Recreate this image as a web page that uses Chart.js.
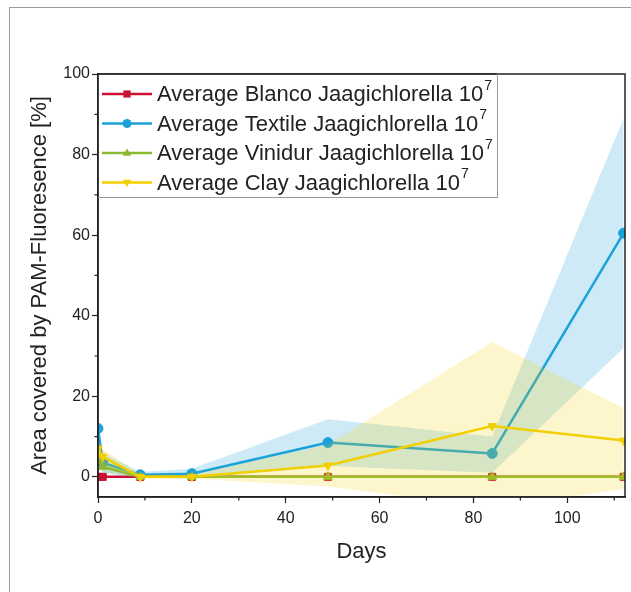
<!DOCTYPE html>
<html>
<head>
<meta charset="utf-8">
<script src="https://cdn.jsdelivr.net/npm/chart.js@4.4.0/dist/chart.umd.min.js"></script>
<style>
html, body { margin: 0; padding: 0; background: #fff; }
#wrap { position: relative; width: 631px; height: 592px; overflow: hidden; }
#frame { position: absolute; left: 9px; top: 7px; right: -2px; bottom: -2px; border-top: 1px solid #9a9a9a; border-left: 1px solid #9a9a9a; }
canvas { position: absolute; left: 0; top: 0; }
</style>
</head>
<body>
<div id="wrap">
  <div id="frame"></div>
  <canvas id="chart" width="631" height="592"></canvas>
</div>
<script>
// Data
const days = [0, 1, 9, 20, 49, 84, 112];

const blancoAvg = [0, 0, 0, 0, 0, 0, 0];

const textileAvg = [12, 3.5, 0.5, 0.8, 8.5, 5.8, 60.5];
const textileHigh = [13, 6, 1.2, 2, 14.3, 10, 89];
const textileLow = [11, 1, -0.2, -0.4, 2.7, 1, 32];

const vinidurAvg = [4, 2.5, 0, 0, 0, 0, 0];
const vinidurHigh = [5.5, 4, 0.3, 0.3, 0.3, 0.3, 0.3];
const vinidurLow = [2.5, 1, -0.3, -0.3, -0.3, -0.3, -0.3];

const clayAvg = [7, 5, 0, 0, 2.8, 12.6, 9];
const clayHigh = [9, 7, 0.5, 0.5, 8, 33.5, 17];
const clayLow = [5, 3, -0.5, -0.5, -2.4, -7.7, -3];

const seriesNames = [
    'Average Blanco Jaagichlorella 10',
    'Average Textile Jaagichlorella 10',
    'Average Vinidur Jaagichlorella 10',
    'Average Clay Jaagichlorella 10'
];

const colors = {
    blanco: '#cc1030',
    textile: '#1ba2d8',
    vinidur: '#8cb833',
    clay: '#f2cf00'
};

const FONT = '"Liberation Sans", Arial, sans-serif';

function pts(ys) {
    return days.map((d, i) => ({ x: d, y: ys[i] }));
}

function band(ys, color, order, fill) {
    return {
        data: pts(ys),
        borderWidth: 0,
        pointRadius: 0,
        backgroundColor: color,
        fill: fill,
        order: order,
        tension: 0
    };
}

function line(ys, color, style, rotation, order) {
    return {
        data: pts(ys),
        borderColor: color,
        backgroundColor: color,
        borderWidth: 2.5,
        pointStyle: style,
        rotation: rotation,
        pointRadius: 5,
        pointBorderWidth: 1,
        fill: false,
        order: order,
        tension: 0
    };
}

// Plot frame and minor ticks
const framePlugin = {
    id: 'frame',
    afterDatasetsDraw(chart) {
        const { ctx, chartArea: a, scales } = chart;
        ctx.save();
        ctx.strokeStyle = '#222';
        ctx.lineWidth = 1.5;
        ctx.strokeRect(a.left, a.top, a.right - a.left, a.bottom - a.top);
        ctx.lineWidth = 1.2;
        ctx.beginPath();
        scales.x.ticks.forEach(t => {
            if (t.value % 20 !== 0) {
                const px = scales.x.getPixelForValue(t.value);
                ctx.moveTo(px, a.bottom);
                ctx.lineTo(px, a.bottom + 3.5);
            }
        });
        scales.y.ticks.forEach(t => {
            if (t.value % 20 !== 0) {
                const py = scales.y.getPixelForValue(t.value);
                ctx.moveTo(a.left, py);
                ctx.lineTo(a.left - 3.5, py);
            }
        });
        ctx.stroke();
        ctx.restore();
    }
};

function drawMarker(ctx, style, x, y, r, color) {
    ctx.fillStyle = color;
    ctx.beginPath();
    if (style === 'rect') {
        ctx.rect(x - r * 0.8, y - r * 0.8, r * 1.6, r * 1.6);
    } else if (style === 'circle') {
        ctx.arc(x, y, r, 0, Math.PI * 2);
    } else if (style === 'up') {
        ctx.moveTo(x, y - r);
        ctx.lineTo(x + r * 0.95, y + r * 0.6);
        ctx.lineTo(x - r * 0.95, y + r * 0.6);
    } else {
        ctx.moveTo(x, y + r);
        ctx.lineTo(x + r * 0.95, y - r * 0.6);
        ctx.lineTo(x - r * 0.95, y - r * 0.6);
    }
    ctx.closePath();
    ctx.fill();
}

// Legend box with line + marker samples
const legendPlugin = {
    id: 'boxLegend',
    afterDraw(chart) {
        const { ctx, chartArea: a } = chart;
        const entries = [
            [colors.blanco, 'rect'],
            [colors.textile, 'circle'],
            [colors.vinidur, 'up'],
            [colors.clay, 'down']
        ];
        const boxL = a.left, boxT = a.top, boxR = 497, boxB = 197;
        ctx.save();
        ctx.fillStyle = '#fff';
        ctx.fillRect(boxL, boxT, boxR - boxL, boxB - boxT);
        ctx.strokeStyle = '#999';
        ctx.lineWidth = 1;
        ctx.strokeRect(boxL + 0.5, boxT + 0.5, boxR - boxL, boxB - boxT);
        ctx.strokeStyle = '#222';
        ctx.lineWidth = 1.5;
        ctx.beginPath();
        ctx.moveTo(a.left, boxT);
        ctx.lineTo(a.left, boxB);
        ctx.moveTo(a.left, boxT);
        ctx.lineTo(boxR, boxT);
        ctx.stroke();
        entries.forEach((e, i) => {
            const y = 94 + i * 29.5;
            ctx.strokeStyle = e[0];
            ctx.lineWidth = 2.5;
            ctx.beginPath();
            ctx.moveTo(102, y);
            ctx.lineTo(152, y);
            ctx.stroke();
            drawMarker(ctx, e[1], 127, y, 4.5, e[0]);
            ctx.fillStyle = '#222';
            ctx.textBaseline = 'middle';
            ctx.font = '22px ' + FONT;
            ctx.fillText(seriesNames[i], 157, y + 1);
            const w = ctx.measureText(seriesNames[i]).width;
            ctx.font = '14px ' + FONT;
            ctx.fillText('7', 157 + w + 1, y - 8);
        });
        ctx.restore();
    }
};

const majorTickColor = c => (c.tick && c.tick.value % 20 === 0) ? '#222' : 'rgba(0,0,0,0)';

new Chart(document.getElementById('chart'), {
    type: 'line',
    data: {
        datasets: [
            band(textileHigh, 'rgba(30,160,215,0.22)', 9, '+1'),
            band(textileLow, 'rgba(0,0,0,0)', 9, false),
            band(vinidurHigh, 'rgba(140,184,51,0.22)', 7, '+1'),
            band(vinidurLow, 'rgba(0,0,0,0)', 7, false),
            band(clayHigh, 'rgba(245,212,0,0.2)', 5, '+1'),
            band(clayLow, 'rgba(0,0,0,0)', 5, false),
            line(blancoAvg, colors.blanco, 'rect', 0, 10),
            line(textileAvg, colors.textile, 'circle', 0, 8),
            line(vinidurAvg, colors.vinidur, 'triangle', 0, 6),
            line(clayAvg, colors.clay, 'triangle', 180, 4)
        ]
    },
    options: {
        responsive: false,
        animation: false,
        layout: { padding: { left: 0, top: 74, right: 4, bottom: 0 } },
        plugins: {
            legend: { display: false },
            tooltip: { enabled: false }
        },
        scales: {
            x: {
                type: 'linear',
                min: 0,
                max: 112.3,
                afterFit: s => { s.height = 95; },
                border: { display: true, color: '#222', width: 1.5 },
                grid: { drawOnChartArea: false, drawTicks: true, tickLength: 6, tickColor: majorTickColor, tickWidth: 1.2 },
                ticks: {
                    stepSize: 10,
                    includeBounds: false,
                    autoSkip: false,
                    maxRotation: 0,
                    padding: 6,
                    color: '#222',
                    font: { family: FONT, size: 16 },
                    callback: v => (v % 20 === 0 ? String(v) : '')
                },
                title: {
                    display: true,
                    text: 'Days',
                    color: '#222',
                    font: { family: FONT, size: 22 },
                    padding: { top: 0, bottom: 27 }
                }
            },
            y: {
                min: -5,
                max: 100,
                afterFit: s => { s.width = 98; },
                border: { display: true, color: '#222', width: 1.5 },
                grid: { drawOnChartArea: false, drawTicks: true, tickLength: 6, tickColor: majorTickColor, tickWidth: 1.2 },
                ticks: {
                    stepSize: 10,
                    includeBounds: false,
                    autoSkip: false,
                    padding: 2,
                    color: '#222',
                    font: { family: FONT, size: 16 },
                    callback: v => (v % 20 === 0 ? String(v) : '')
                },
                title: {
                    display: true,
                    text: 'Area covered by PAM-Fluoresence [%]',
                    color: '#222',
                    font: { family: FONT, size: 22 },
                    padding: { top: 27, bottom: 0 }
                }
            }
        }
    },
    plugins: [framePlugin, legendPlugin]
});
</script>
</body>
</html>
